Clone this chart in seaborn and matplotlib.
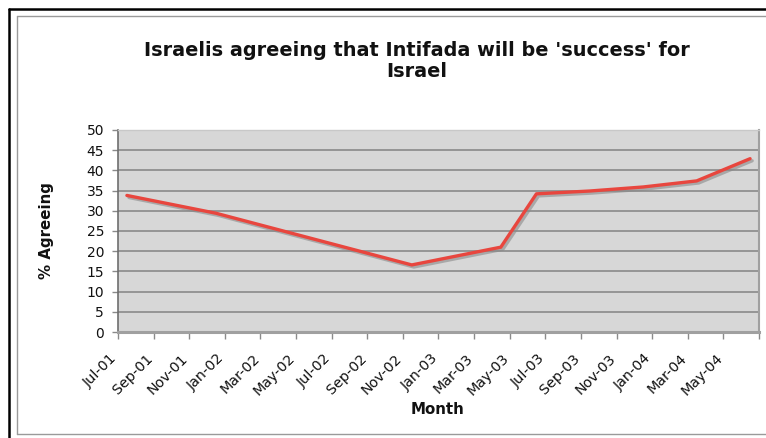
import matplotlib
matplotlib.use("Agg")
import matplotlib.pyplot as plt
import matplotlib.patheffects as pe
import matplotlib.transforms as mtrans
from matplotlib.lines import Line2D
import seaborn as sns
import pandas as pd
import numpy as np

# ---- data ----
survey_months = ["2001-07", "2001-12", "2002-11", "2003-04", "2003-06",
                 "2003-09", "2003-12", "2004-03", "2004-06"]
pct_agreeing = [33.8, 29.4, 16.6, 21.0, 34.2, 34.9, 35.9, 37.4, 42.9]
tick_labels = ["Jul-01", "Sep-01", "Nov-01", "Jan-02", "Mar-02", "May-02",
               "Jul-02", "Sep-02", "Nov-02", "Jan-03", "Mar-03", "May-03",
               "Jul-03", "Sep-03", "Nov-03", "Jan-04", "Mar-04", "May-04"]
title = "Israelis agreeing that Intifada will be 'success' for\nIsrael"

dates = pd.to_datetime(survey_months)
# month index from Jul-2001, points centred in their month
midx = (dates.year - 2001) * 12 + (dates.month - 7) + 0.5
df = pd.DataFrame({"month": midx, "pct": pct_agreeing})

sns.set_style("white", {"axes.facecolor": "#d7d7d7"})
plt.rcParams["font.family"] = ["DejaVu Sans"]

fig = plt.figure(figsize=(7.66, 4.38), dpi=100)
ax = fig.add_axes([118 / 766, 1 - 332 / 438, (759 - 118) / 766, (332 - 130) / 438])
ax.set_facecolor("#d7d7d7")

# horizontal gridlines
ax.set_ylim(0, 50)
ax.set_yticks(np.arange(0, 51, 5))
ax.yaxis.grid(True, color="#8a8a8a", linewidth=1.2)
ax.xaxis.grid(False)
ax.set_axisbelow(True)

sns.lineplot(data=df, x="month", y="pct", ax=ax, color="#e8463e", linewidth=2.4,
             path_effects=[pe.SimpleLineShadow(offset=(1.5, -1.5), shadow_color="#8a8a8a", alpha=0.6),
                           pe.Normal()])

n_ticks = len(tick_labels)
ax.set_xlim(0, 2 * n_ticks)
ax.set_xticks(np.arange(0, 2 * n_ticks + 1, 2))
ax.set_xticklabels(tick_labels + [""], rotation=45, ha="right",
                   rotation_mode="anchor", fontsize=10.3, color="#111111")
ax.tick_params(axis="x", length=5, width=1, color="#8a8a8a", pad=9, direction="out", bottom=True)
ax.tick_params(axis="y", length=4, width=1, color="#8a8a8a", labelsize=10, labelcolor="#111111",
               direction="out", left=True, pad=6)

shift = mtrans.ScaledTranslation(-8 / 100, 0, fig.dpi_scale_trans)
for lab in ax.get_xticklabels():
    lab.set_va("top")
    lab.set_transform(lab.get_transform() + shift)

ax.spines["left"].set_color("#6e6e6e")
ax.spines["left"].set_linewidth(1.2)
ax.spines["bottom"].set_color("#a0a0a0")
ax.spines["bottom"].set_linewidth(2.2)
ax.spines["right"].set_color("#a0a0a0")
ax.spines["right"].set_linewidth(1.5)
ax.spines["top"].set_color("#c8c8c8")
ax.spines["top"].set_linewidth(1.0)

ax.set_xlabel("Month", fontsize=10.8, fontweight="bold", color="#111111")
ax.set_ylabel("% Agreeing", fontsize=10.8, fontweight="bold", color="#111111")
ax.xaxis.set_label_coords((438 - 118) / 641, (332 - 410) / 202)
ax.yaxis.set_label_coords((46 - 118) / 641, 0.5)
ax.xaxis.label.set_va("center")
ax.yaxis.label.set_va("center")

fig.text(417 / 766, 1 - 61 / 438, title, ha="center", va="center", fontsize=13.9,
         fontweight="bold", color="#111111", linespacing=1.15)

# surrounding frame lines
W, H = 766, 438
def fline(x0, y0, x1, y1, color, lw):
    fig.add_artist(Line2D([x0 / W, x1 / W], [1 - y0 / H, 1 - y1 / H],
                          transform=fig.transFigure, color=color, linewidth=lw))

fline(9, 9, 766, 9, "#000000", 1.8)
fline(9, 9, 9, 438, "#000000", 1.8)
fline(17, 15.5, 766, 15.5, "#9a9a9a", 1.0)
fline(17, 15.5, 17, 434, "#9a9a9a", 1.0)
fline(17, 434, 766, 434, "#9a9a9a", 1.0)

fig.savefig("out.png", dpi=100)
